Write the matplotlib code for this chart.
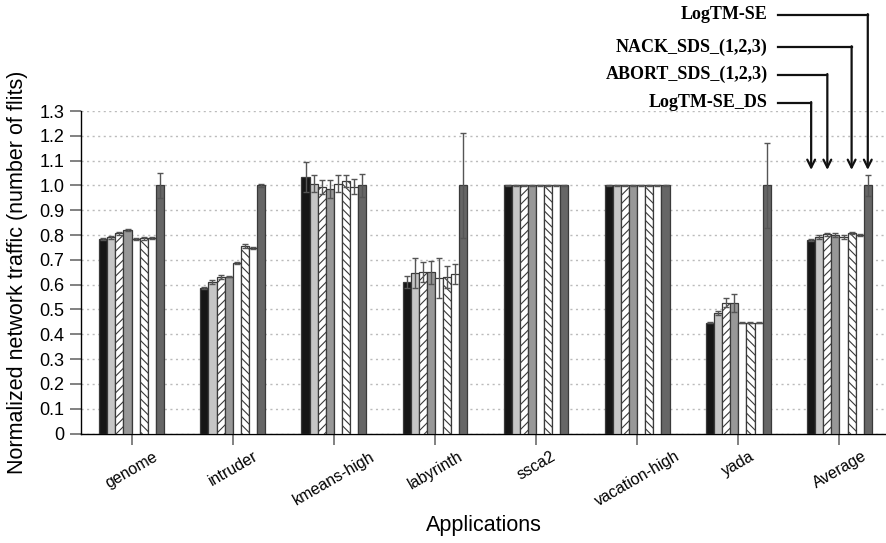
import numpy as np
import matplotlib
matplotlib.use('Agg')
import matplotlib.pyplot as plt

plt.rcParams['font.family'] = ['Liberation Sans', 'DejaVu Sans']
plt.rcParams['hatch.linewidth'] = 0.8

# Applications and configurations
apps = ['genome', 'intruder', 'kmeans-high', 'labyrinth', 'ssca2',
        'vacation-high', 'yada', 'Average']

s1 = [0.784, 0.585, 1.033, 0.610, 1.0, 1.0, 0.447, 0.781]
s2 = [0.791, 0.612, 1.007, 0.646, 1.0, 1.0, 0.485, 0.791]
s3 = [0.807, 0.630, 0.993, 0.650, 1.0, 1.0, 0.527, 0.803]
s4 = [0.820, 0.632, 0.985, 0.650, 1.0, 1.0, 0.525, 0.800]
s5 = [0.785, 0.686, 1.007, 0.626, 1.0, 1.0, 0.446, 0.792]
s6 = [0.788, 0.756, 1.019, 0.630, 1.0, 1.0, 0.446, 0.807]
s7 = [0.788, 0.747, 0.995, 0.643, 1.0, 1.0, 0.447, 0.802]
s8 = [1.0, 1.0, 1.0, 1.0, 1.0, 1.0, 1.0, 1.0]

e1 = [0.004, 0.004, 0.060, 0.025, 0.002, 0.002, 0.002, 0.004]
e2 = [0.005, 0.008, 0.034, 0.060, 0.002, 0.002, 0.008, 0.008]
e3 = [0.006, 0.008, 0.027, 0.040, 0.002, 0.002, 0.018, 0.005]
e4 = [0.003, 0.003, 0.037, 0.047, 0.002, 0.002, 0.037, 0.008]
e5 = [0.004, 0.004, 0.034, 0.080, 0.002, 0.002, 0.002, 0.008]
e6 = [0.006, 0.008, 0.025, 0.044, 0.002, 0.002, 0.002, 0.004]
e7 = [0.004, 0.004, 0.030, 0.040, 0.002, 0.002, 0.002, 0.004]
e8 = [0.052, 0.005, 0.045, 0.213, 0.002, 0.002, 0.170, 0.041]

series = [s1, s2, s3, s4, s5, s6, s7, s8]
errors = [e1, e2, e3, e4, e5, e6, e7, e8]
colors = ['#161616', '#c6c6c6', 'white', '#989898', 'white', 'white', 'white', '#666666']
hatches = [None, None, '////', None, None, '\\\\\\\\', None, None]

fig = plt.figure(figsize=(8.87, 5.43), dpi=100)
ax = fig.add_axes([81 / 887, 109.5 / 543, 806 / 887, 322.5 / 543])

x = np.arange(len(apps))
w = 0.08
for i, (vals, err) in enumerate(zip(series, errors)):
    pos = x + (i - 3.5) * w
    ax.bar(pos, vals, width=w, color=colors[i], edgecolor='#3a3a3a',
           linewidth=0.9, hatch=hatches[i], zorder=3)
    ax.errorbar(pos, vals, yerr=err, fmt='none', ecolor='#555555',
                elinewidth=1.0, capsize=2.5, capthick=1.0, zorder=4)

ax.set_xlim(-0.5, 7.47)
ax.set_ylim(0, 1.3)
ax.set_yticks(np.arange(0, 1.31, 0.1))
ax.set_yticklabels(['0'] + ['%.1f' % v for v in np.arange(0.1, 1.31, 0.1)], fontsize=13)
ax.set_xticks(x)
ax.set_xticklabels(apps, rotation=30, ha='center', fontsize=11.5)
ax.tick_params(axis='both', direction='out', length=8, width=1.3, color='#777777')
ax.tick_params(axis='y', pad=4)
ax.tick_params(axis='x', pad=3)
ax.yaxis.grid(True, linestyle=(0, (1.5, 2.5)), color='#bbbbbb', linewidth=1.0, zorder=0)
ax.set_axisbelow(True)
for s in ['top', 'right']:
    ax.spines[s].set_visible(False)
ax.spines['left'].set_linewidth(1.0)
ax.spines['bottom'].set_linewidth(1.0)

ax.set_ylabel('Normalized network traffic (number of flits)', fontsize=15.5, labelpad=8)
ax.set_xlabel('Applications', fontsize=15.5, labelpad=4)

# Legend as annotated arrows pointing at the Average bars
labels = ['LogTM-SE', 'NACK_SDS_(1,2,3)', 'ABORT_SDS_(1,2,3)', 'LogTM-SE_DS']
bar_idx = [7, 5, 2, 0]
label_y = [1.6875, 1.558, 1.446, 1.333]
for lab, bi, ly in zip(labels, bar_idx, label_y):
    bx = 7 + (bi - 3.5) * w
    ax.text(6.29, ly, lab, ha='right', va='center', fontsize=13, fontweight='bold',
            family=['Liberation Serif', 'DejaVu Serif'], clip_on=False)
    ax.plot([6.39, bx], [ly, ly], color='#111111', lw=1.6, clip_on=False)
    ax.annotate('', xy=(bx, 1.0625), xytext=(bx, ly + 0.003),
                arrowprops=dict(arrowstyle='->', color='#111111', lw=1.6,
                                mutation_scale=14, shrinkA=0, shrinkB=0),
                annotation_clip=False)

fig.savefig('out.png', dpi=100)
